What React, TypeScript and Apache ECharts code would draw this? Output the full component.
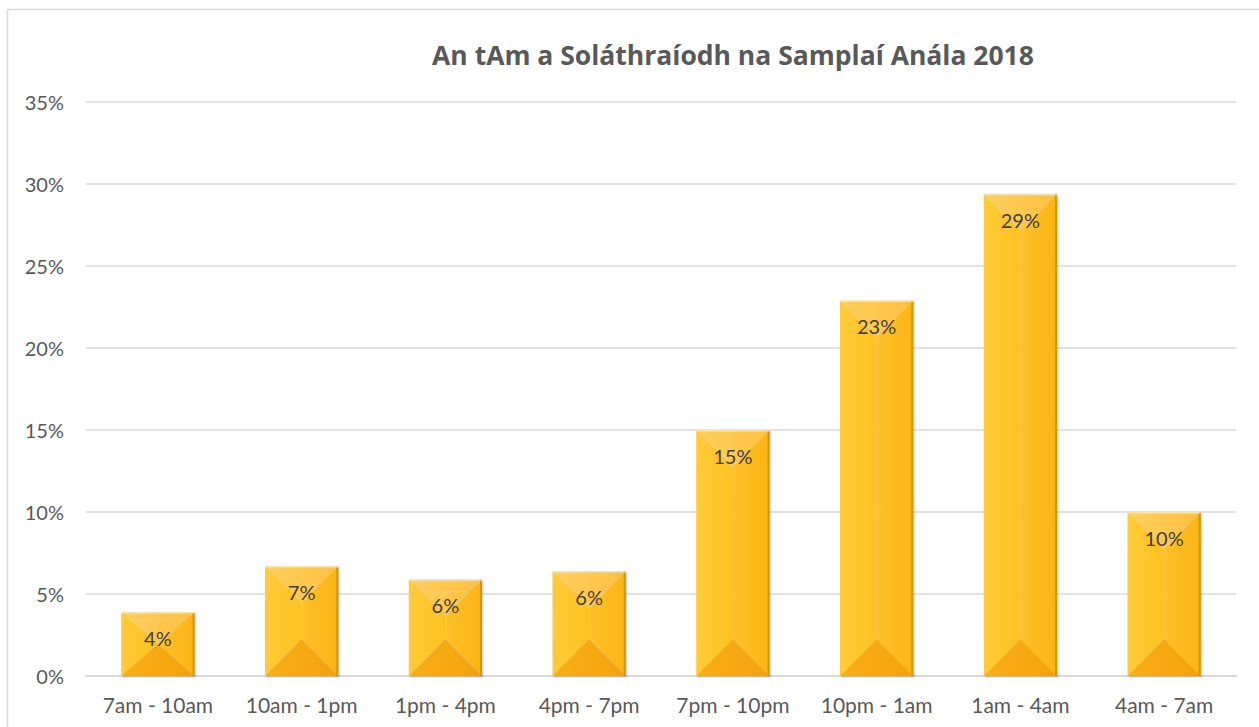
import React, { useEffect, useRef } from "react";
import * as echarts from "echarts";

const categories = ["7am - 10am", "10am - 1pm", "1pm - 4pm", "4pm - 7pm", "7pm - 10pm", "10pm - 1am", "1am - 4am", "4am - 7am"];
const values = [3.9, 6.7, 5.9, 6.4, 15.0, 22.9, 29.4, 10.0];
const yTicks = { min: 0, max: 35, interval: 5 };
const title = "An tAm a Soláthraíodh na Samplaí Anála 2018";

function renderBar(params: any, api: any) {
  const idx = api.value(0);
  const val = api.value(1);
  const top = api.coord([idx, val]);
  const base = api.coord([idx, 0]);
  const w = api.size([1, 0])[0] * 0.51;
  const x0 = top[0] - w / 2;
  const x1 = top[0] + w / 2;
  const y0 = top[1];
  const y1 = base[1];
  const h = y1 - y0;
  const d = Math.min(w / 2, h / 2);
  const cx = top[0];
  const lin = (c1: string, c2: string, vert = false) =>
    new echarts.graphic.LinearGradient(0, 0, vert ? 0 : 1, vert ? 1 : 0, [
      { offset: 0, color: c1 },
      { offset: 1, color: c2 },
    ]);
  return {
    type: "group",
    children: [
      {
        type: "rect",
        shape: { x: x0 + 1.5, y: y0 + 1.5, width: w, height: h },
        style: { fill: "rgba(0,0,0,0.15)" },
      },
      {
        type: "polygon",
        shape: { points: [[x0, y0], [cx, y0 + d], [cx, y1 - d], [x0, y1]] },
        style: { fill: lin("#FFCB3A", "#FFC220") },
      },
      {
        type: "polygon",
        shape: { points: [[x1, y0], [x1, y1], [cx, y1 - d], [cx, y0 + d]] },
        style: { fill: lin("#FFC02A", "#FBB414") },
      },
      {
        type: "polygon",
        shape: { points: [[x0, y0], [x1, y0], [cx, y0 + d]] },
        style: { fill: lin("#FFD060", "#FFC040") },
      },
      {
        type: "polygon",
        shape: { points: [[x0, y1], [cx, y1 - d], [x1, y1]] },
        style: { fill: lin("#F9AE14", "#F2A30C") },
      },
      {
        type: "rect",
        shape: { x: x1 - 2, y: y0, width: 2, height: h },
        style: { fill: "rgba(170,110,0,0.45)" },
      },
      {
        type: "rect",
        shape: { x: x0, y: y0, width: w, height: 1.5 },
        style: { fill: "rgba(255,235,170,0.8)" },
      },
      {
        type: "text",
        style: {
          text: Math.round(val) + "%",
          x: cx,
          y: y0 + 26,
          align: "center",
          verticalAlign: "middle",
          fontFamily: "Lato",
          fontSize: 20,
          fill: "#404040",
        },
      },
    ],
  };
}

export default function App() {
  const ref = useRef<HTMLDivElement>(null);
  useEffect(() => {
    document.body.style.margin = "0";
    const chart = echarts.init(ref.current!, null, { renderer: "svg" });
    chart.setOption({
      animation: false,
      backgroundColor: "#ffffff",
      title: {
        text: title,
        left: 728,
        top: 36,
        textAlign: "center",
        textStyle: { fontFamily: "Open Sans", fontWeight: "bold", fontSize: 26.5, color: "#595959" },
      },
      graphic: [
        {
          type: "rect",
          shape: { x: 7.5, y: 9.5, width: 1400, height: 900 },
          style: { fill: "none", stroke: "#d9d9d9", lineWidth: 1.5 },
          silent: true,
        },
      ],
      grid: { left: 86, right: 23, top: 102, bottom: 51, containLabel: false },
      xAxis: {
        type: "category",
        data: categories,
        axisLine: { show: true, lineStyle: { color: "#d9d9d9", width: 2 } },
        axisTick: { show: false },
        axisLabel: { fontFamily: "Lato", fontSize: 21, color: "#595959", margin: 18, interval: 0 },
      },
      yAxis: {
        type: "value",
        min: yTicks.min,
        max: yTicks.max,
        interval: yTicks.interval,
        axisLine: { show: false },
        axisTick: { show: false },
        splitLine: { lineStyle: { color: "#d9d9d9", width: 1.5 } },
        axisLabel: { formatter: "{value}%", fontFamily: "Lato", fontSize: 20, color: "#595959", margin: 22 },
      },
      series: [
        {
          type: "custom",
          renderItem: renderBar,
          data: values.map((v, i) => [i, v]),
          encode: { x: 0, y: 1 },
          z: 3,
        },
      ],
    });
    return () => chart.dispose();
  }, []);
  return <div ref={ref} style={{ width: 1259, height: 727 }} />;
}
